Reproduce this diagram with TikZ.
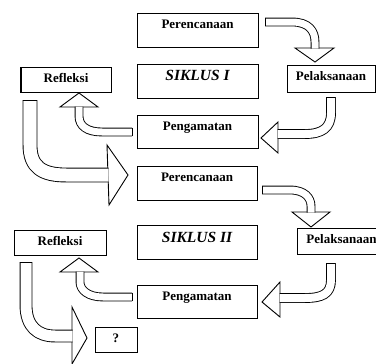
\documentclass[tikz,border=0pt]{standalone}
\usepackage{fontspec}
\setmainfont{Liberation Serif}
\begin{document}
\begin{tikzpicture}[x=1pt,y=-1pt,
  box/.style={draw, line width=1pt, inner sep=0pt,
    font=\bfseries\fontsize{13}{15}\selectfont, text height=9pt, text depth=4pt},
  bigbox/.style={box, minimum width=121pt, minimum height=34pt, text depth=12pt},
  sikbox/.style={bigbox, font=\bfseries\itshape\fontsize{15.5}{17}\selectfont, text height=11pt, text depth=11pt},
  smallbox/.style={box, minimum height=25pt},
  shaft/.style={line width=0.9pt, double=white, double distance=#1, line cap=butt, line join=round},
  ahead/.style={draw, fill=white, line width=0.9pt, line join=miter},
  capline/.style={line width=0.9pt}]
\useasboundingbox (0,0) rectangle (376,364);

% boxes
\node[bigbox] (per1) at (197.5,30.5) {Perencanaan};
\node[sikbox] (sik1) at (197.5,81) {SIKLUS I};
\node[smallbox, minimum width=90pt] (ref1) at (66,79.5) {Refleksi};
\node[smallbox, minimum width=88pt, minimum height=27pt] (pel1) at (331,78.5) {Pelaksanaan};
\node[bigbox, minimum height=33pt] (pen1) at (197.5,131.5) {Pengamatan};

\node[bigbox, minimum width=120pt] (per2) at (197,183) {Perencanaan};
\node[sikbox, minimum width=120pt] (sik2) at (197,242) {SIKLUS II};
\node[smallbox, minimum width=92pt] (ref2) at (60,242.5) {Refleksi};
\node[smallbox, minimum width=89pt, minimum height=26pt] (pel2) at (341.5,241) {Pelaksanaan};
\node[bigbox, minimum width=120pt, minimum height=33pt] (pen2) at (197,301.5) {Pengamatan};
\node[smallbox, minimum width=42pt] (q) at (116,339.5) {?};

% arrow 1: per1 -> pel1
\draw[ahead] (295,48) -- (334,48) -- (315,62) -- cycle;
\draw[shaft=7pt] (265,22) -- (292,22) .. controls (309,22) and (315,31) .. (315,42) -- (315,48.5);
\draw[capline] (265,18.1) -- (265,25.9);

% arrow 2: pel1 -> pen1
\draw[ahead] (278,122) -- (278,153) -- (261,138) -- cycle;
\draw[shaft=8pt] (331,97) -- (331,113) .. controls (331,128) and (322,134) .. (305,134) -- (277.5,134);
\draw[capline] (326.6,97) -- (335.4,97);

% arrow 3: pen1 -> ref1
\draw[ahead] (60,107) -- (98,107) -- (79,93) -- cycle;
\draw[shaft=7pt] (132,132) -- (102,132) .. controls (87,132) and (79,126) .. (79,116) -- (79,106.5);
\draw[capline] (132,128.1) -- (132,135.9);

% arrow 4: ref1 -> per2
\draw[ahead] (107,145) -- (109,205) -- (128,175) -- cycle;
\draw[shaft=13pt] (30,100) -- (30,145) .. controls (30,167) and (42,175) .. (66,175) -- (108.5,175);
\draw[capline] (22.6,100) -- (37.4,100);

% arrow 5: per2 -> pel2
\draw[ahead] (292,212) -- (330,212) -- (311,227) -- cycle;
\draw[shaft=7pt] (262,190) -- (290,190) .. controls (305,190) and (311,198) .. (311,206) -- (311,212.5);
\draw[capline] (262,186.1) -- (262,193.9);

% arrow 6: pel2 -> pen2
\draw[ahead] (280,282) -- (280,317) -- (262,302) -- cycle;
\draw[shaft=8pt] (331,263) -- (331,280) .. controls (331,294) and (322,298) .. (305,298) -- (279.5,298);
\draw[capline] (326.6,263) -- (335.4,263);

% arrow 7: pen2 -> ref2
\draw[ahead] (60,272) -- (98,272) -- (79,258) -- cycle;
\draw[shaft=7pt] (132,297) -- (103,297) .. controls (88,297) and (80,290) .. (80,282) -- (80,271.5);
\draw[capline] (132,293.1) -- (132,300.9);

% arrow 8: ref2 -> q
\draw[ahead] (72,307) -- (72,364) -- (87,338) -- cycle;
\draw[shaft=11pt] (26,262) -- (26,305) .. controls (26,327) and (38,336) .. (55,336) -- (72.5,336);
\draw[capline] (19.6,262) -- (32.4,262);
\end{tikzpicture}
\end{document}
